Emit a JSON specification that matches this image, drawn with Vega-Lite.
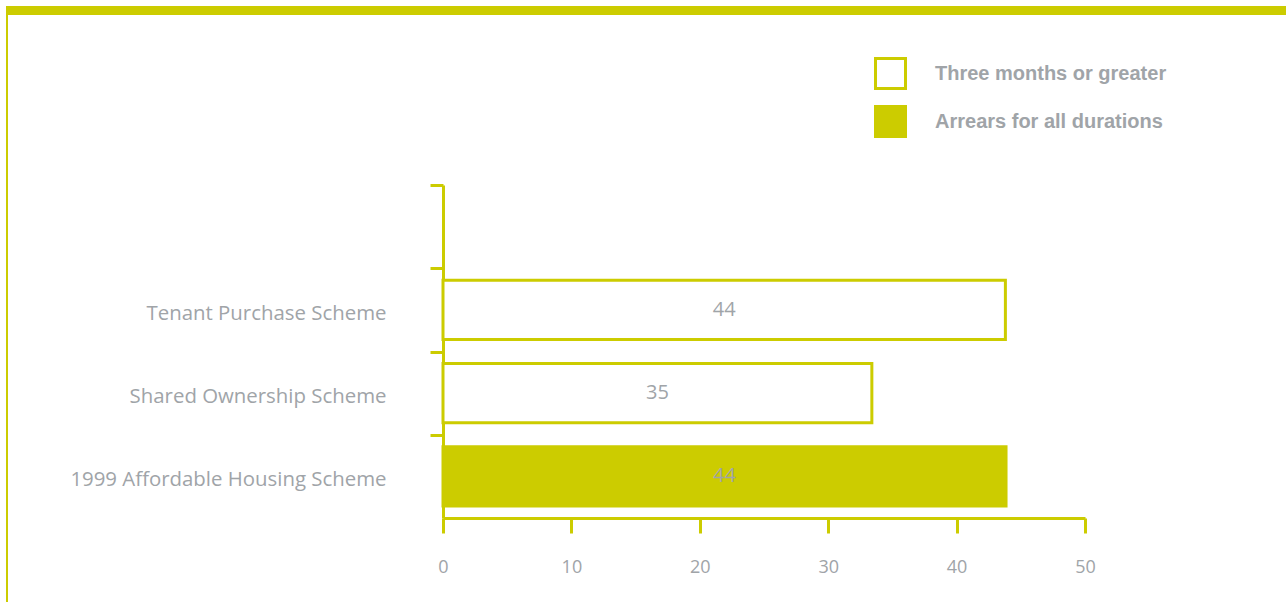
{
  "$schema": "https://vega.github.io/schema/vega-lite/v6.json",
  "padding": {"left": 6, "top": 6, "right": 0, "bottom": 0},
  "background": "white",
  "config": {
    "font": "Open Sans",
    "view": {"stroke": null},
    "axis": {"grid": false}
  },
  "bounds": "flush",
  "spacing": 0,
  "vconcat": [
    {
      "width": 1280,
      "height": 9,
      "data": {"values": []},
      "mark": "rect",
      "encoding": {},
      "view": {"fill": "#cccc00", "stroke": null}
    },
    {
      "bounds": "flush",
      "spacing": 435,
      "hconcat": [
        {
          "width": 2,
          "height": 587,
          "data": {"values": []},
          "mark": "rect",
          "encoding": {},
          "view": {"fill": "#cccc00", "stroke": null}
        },
        {
          "width": 642,
          "height": 503,
          "data": {
            "values": [
              {"scheme": "Tenant Purchase Scheme", "type": "Three months or greater", "value": 43.8, "label": "44"},
              {"scheme": "Shared Ownership Scheme", "type": "Three months or greater", "value": 33.4, "label": "35"},
              {"scheme": "1999 Affordable Housing Scheme", "type": "Arrears for all durations", "value": 43.85, "label": "44"}
            ]
          },
          "encoding": {
            "y": {
              "field": "scheme",
              "type": "nominal",
              "title": null,
              "scale": {
                "domain": [" ", "Tenant Purchase Scheme", "Shared Ownership Scheme", "1999 Affordable Housing Scheme"],
                "range": [170, 503],
                "paddingInner": 0.29,
                "paddingOuter": 0.145
              },
              "axis": {
                "bandPosition": 0.5,
                "tickOffset": -41.6,
                "labelOffset": 45,
                "domainColor": "#cccc00",
                "domainWidth": 3,
                "tickColor": "#cccc00",
                "tickWidth": 3,
                "tickSize": 13,
                "labelPadding": 44,
                "labelFontSize": 20.4,
                "labelColor": "#a0a4a8",
                "labelFont": "Open Sans",
                "labelLimit": 500
              }
            }
          },
          "layer": [
            {
              "mark": {"type": "bar", "stroke": "#cccc00", "strokeWidth": 3},
              "encoding": {
                "x": {
                  "field": "value",
                  "type": "quantitative",
                  "title": null,
                  "scale": {"domain": [0, 50], "nice": false},
                  "axis": {
                    "values": [0, 10, 20, 30, 40, 50],
                    "domainColor": "#cccc00",
                    "domainWidth": 3,
                    "tickColor": "#cccc00",
                    "tickWidth": 3,
                    "tickSize": 15,
                    "labelPadding": 25,
                    "labelFontSize": 18,
                    "labelColor": "#a0a4a8",
                    "labelFont": "Open Sans",
                    "labelFlush": false
                  }
                },
                "fill": {
                  "field": "type",
                  "type": "nominal",
                  "scale": {
                    "domain": ["Three months or greater", "Arrears for all durations"],
                    "range": ["#ffffff", "#cccc00"]
                  },
                  "legend": {
                    "title": null,
                    "orient": "none",
                    "legendX": 868,
                    "legendY": 51,
                    "padding": 0,
                    "symbolType": "square",
                    "symbolSize": 900,
                    "symbolStrokeColor": "#cccc00",
                    "symbolStrokeWidth": 3,
                    "rowPadding": 5,
                    "labelOffset": 28,
                    "labelFontSize": 20,
                    "labelFontWeight": "bold",
                    "labelFont": "Liberation Sans",
                    "labelColor": "#a0a4a8",
                    "labelLimit": 400
                  }
                }
              }
            },
            {
              "transform": [{"calculate": "datum.value / 2", "as": "mid"}],
              "mark": {"type": "text", "fontSize": 20, "font": "Open Sans", "color": "#a0a4a8", "baseline": "middle", "align": "center"},
              "encoding": {
                "x": {"field": "mid", "type": "quantitative"},
                "text": {"field": "label"}
              }
            }
          ]
        }
      ]
    }
  ]
}
